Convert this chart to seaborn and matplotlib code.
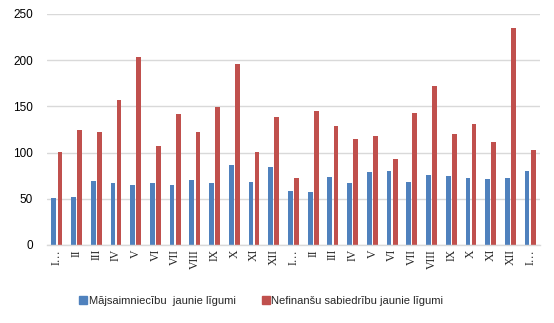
import matplotlib
matplotlib.use("Agg")
import matplotlib.pyplot as plt
import seaborn as sns
import pandas as pd
from matplotlib.lines import Line2D

months = ["I…", "II", "III", "IV", "V", "VI", "VII", "VIII", "IX", "X", "XI", "XII",
          "I…", "II", "III", "IV", "V", "VI", "VII", "VIII", "IX", "X", "XI", "XII", "I…"]
households = [51, 52, 69, 67, 65, 67, 65, 70, 67, 87, 68, 84,
              58, 57, 74, 67, 79, 80, 68, 76, 75, 72, 71, 72, 80]
corporations = [101, 124, 122, 157, 203, 107, 142, 122, 149, 196, 101, 138,
                72, 145, 129, 115, 118, 93, 143, 172, 120, 131, 111, 235, 103]
series_names = ["Mājsaimniecību  jaunie līgumi", "Nefinanšu sabiedrību jaunie līgumi"]
colors = ["#4F81BD", "#C0504D"]

n = len(months)
df = pd.DataFrame({
    "idx": list(range(n)) * 2,
    "value": households + corporations,
    "series": [series_names[0]] * n + [series_names[1]] * n,
})

sns.set_theme(style="white")
plt.rcParams["font.family"] = ["Liberation Sans", "DejaVu Sans"]

fig = plt.figure(figsize=(5.54, 3.23), dpi=100)
ax = fig.add_axes([0.0848, 0.2415, 0.8899, 0.7152])

sns.barplot(data=df, x="idx", y="value", hue="series", palette=colors,
            width=0.62, gap=0.22, ax=ax, legend=False, saturation=1,
            linewidth=0, edgecolor="none")

ax.set_xlim(-0.5, n - 0.5)
ax.set_ylim(0, 250)
ax.set_yticks([0, 50, 100, 150, 200, 250])
ax.yaxis.grid(True, color="#D9D9D9", linewidth=1)
ax.set_axisbelow(True)
ax.set_xlabel("")
ax.set_ylabel("")
for s in ["top", "right", "left"]:
    ax.spines[s].set_visible(False)
ax.spines["bottom"].set_color("#D9D9D9")
ax.spines["bottom"].set_linewidth(1)
ax.tick_params(axis="both", length=0)
ax.tick_params(axis="y", labelsize=8.5, pad=10, colors="#000000")
ax.set_xticks(range(n))
ax.set_xticklabels(months, rotation=90, fontsize=8.5, family=["Liberation Serif", "DejaVu Serif"])
ax.tick_params(axis="x", pad=3)

handles = [Line2D([0], [0], marker="s", color="none", markerfacecolor=c,
                  markeredgecolor=c, markersize=5.5) for c in colors]
fig.legend(handles, series_names, loc="center", bbox_to_anchor=(0.472, 0.068),
           ncol=2, frameon=False, fontsize=8, handlelength=0.6,
           handletextpad=0.2, columnspacing=2.4)

fig.savefig("out.png", dpi=100)
